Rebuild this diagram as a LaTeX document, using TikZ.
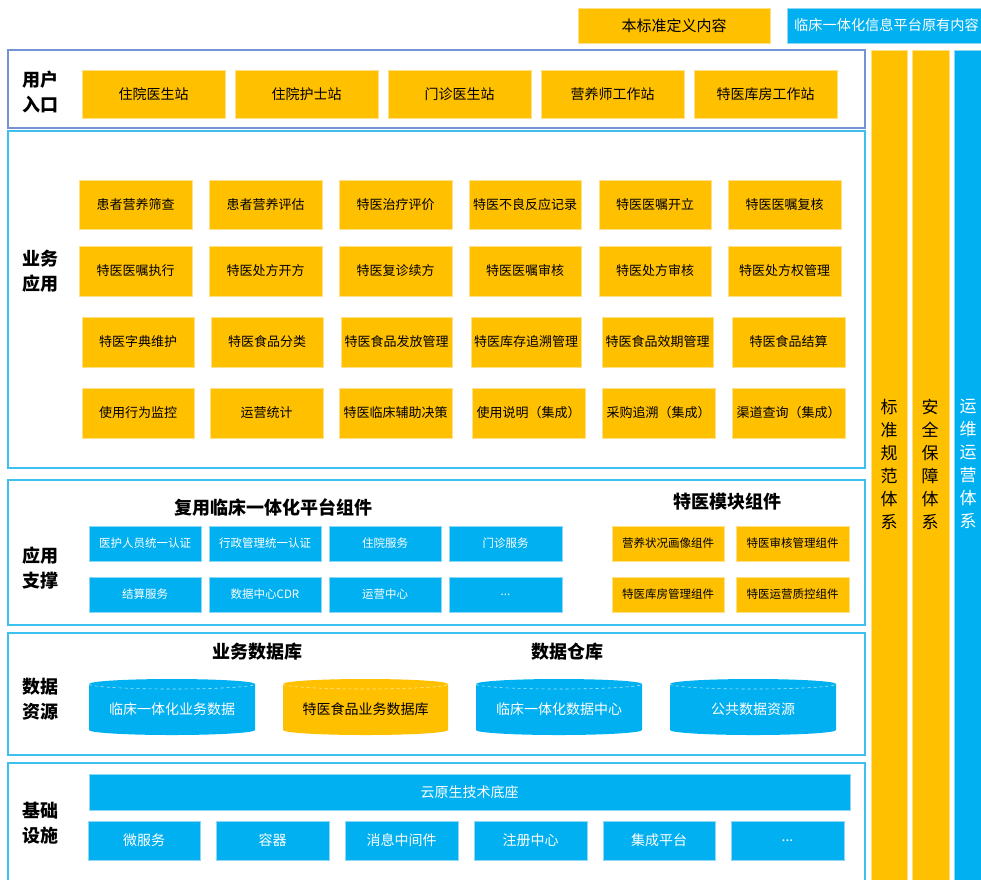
\documentclass[tikz,border=0pt]{standalone}
\usepackage{fontspec}
\setmainfont{Noto Sans CJK SC}
\definecolor{org}{HTML}{FFC000}
\definecolor{sky}{HTML}{00B0F0}
\definecolor{orgedge}{HTML}{FFE08A}
\definecolor{skyedge}{HTML}{8FD8F5}
\definecolor{userpanel}{HTML}{7393D4}
\definecolor{panelc}{HTML}{3DC0F0}
\newcommand{\bx}[7]{\node[#2, minimum width={#5-#3}, minimum height={#6-#4}] (#1) at ({(#3+#5)/2},{(#4+#6)/2}) {#7};}
\newcommand{\cyl}[8]{%
  \fill[#2] (#3,#4+5) -- (#3,#6-5) arc[start angle=180,end angle=360,x radius={(#5-#3)/2*1pt},y radius=5pt] -- (#5,#4+5) arc[start angle=0,end angle=180,x radius={(#5-#3)/2*1pt},y radius=5pt] -- cycle;
  \draw[white!70!#2, dashed, line width=0.6pt] (#3,#4+5) arc[start angle=180,end angle=360,x radius={(#5-#3)/2*1pt},y radius=5pt];
  \node[cyltext, text=#8] (#1) at ({(#3+#5)/2},{(#4+#6)/2+2}) {#7};}
\tikzset{
  obox/.style={rectangle, fill=org, draw=orgedge, line width=0.6pt, inner sep=0pt, outer sep=0pt, text=black, font=\fontsize{13}{15}\selectfont},
  bbox/.style={rectangle, fill=sky, draw=skyedge, line width=0.6pt, inner sep=0pt, outer sep=0pt, text=white, font=\fontsize{13}{15}\selectfont},
  ubox/.style={obox, font=\fontsize{14}{16}\selectfont},
  sbox/.style={bbox, font=\fontsize{11.5}{14}\selectfont},
  sobox/.style={obox, font=\fontsize{11.5}{14}\selectfont},
  ibox/.style={bbox, font=\fontsize{14}{16}\selectfont},
  cyltext/.style={font=\fontsize{14}{16}\selectfont, inner sep=0pt},
  panel/.style={draw=panelc, line width=1.3pt, fill=white},
  lab/.style={font=\fontsize{18}{25}\selectfont\bfseries, align=center, inner sep=0pt},
  ttl/.style={font=\fontsize{18}{20}\selectfont\bfseries, inner sep=0pt},
  vbar/.style={rectangle, inner sep=0pt, outer sep=0pt},
  vtext/.style={font=\fontsize{17}{23}\selectfont, align=center, inner sep=0pt},
  legend/.style={rectangle, inner sep=0pt, font=\fontsize{15}{17}\selectfont}
}
\begin{document}
\begin{tikzpicture}[x=1pt,y=-1pt]
\clip (0,0) rectangle (981,879);
\fill[white] (0,0) rectangle (981,879);

% legend
\bx{lgo}{legend, fill=org, draw=orgedge, text=black}{578}{8}{770}{43}{本标准定义内容}
\bx{lgb}{legend, fill=sky, draw=skyedge, text=white}{787}{8}{1000}{43}{}
\node[anchor=west, inner sep=0pt, text=white, font=\fontsize{14.2}{17}\selectfont] (lgbt) at (794,25.5) {临床一体化信息平台原有内容};

% vertical bars
\bx{vb1}{vbar, fill=org, draw=orgedge}{871}{50}{907}{885}{}
\bx{vb2}{vbar, fill=org, draw=orgedge}{912}{50}{949}{885}{}
\bx{vb3}{vbar, fill=sky, draw=skyedge}{954}{50}{995}{885}{}
\node[vtext, text=black] (vt1) at (889,464) {标\\准\\规\\范\\体\\系};
\node[vtext, text=black] (vt2) at (930,464) {安\\全\\保\\障\\体\\系};
\node[vtext, text=white] (vt3) at (968,464) {运\\维\\运\\营\\体\\系};

% panels
\draw[panel, draw=userpanel] (8,50) rectangle (865,128);
\draw[panel] (8,131) rectangle (865,468);
\draw[panel] (8,480) rectangle (865,625);
\draw[panel] (8,633) rectangle (865,755);
\draw[panel] (8,763) rectangle (865,890);

% panel labels
\node[lab] (l1) at (40,92) {用户\\入口};
\node[lab] (l2) at (40,271) {业务\\应用};
\node[lab] (l3) at (40,568) {应用\\支撑};
\node[lab] (l4) at (40,699) {数据\\资源};
\node[lab] (l5) at (40,823) {基础\\设施};

% user entry
\bx{u1}{ubox}{82}{70}{225}{118}{住院医生站}
\bx{u2}{ubox}{235}{70}{378}{118}{住院护士站}
\bx{u3}{ubox}{388}{70}{531}{118}{门诊医生站}
\bx{u4}{ubox}{541}{70}{684}{118}{营养师工作站}
\bx{u5}{ubox}{694}{70}{837}{118}{特医库房工作站}

% business applications
\bx{a11}{obox}{79}{180}{192}{229}{患者营养筛查}
\bx{a12}{obox}{209}{180}{322}{229}{患者营养评估}
\bx{a13}{obox}{339}{180}{452}{229}{特医治疗评价}
\bx{a14}{obox}{469}{180}{581}{229}{特医不良反应记录}
\bx{a15}{obox}{599}{180}{711}{229}{特医医嘱开立}
\bx{a16}{obox}{728}{180}{841}{229}{特医医嘱复核}

\bx{a21}{obox}{79}{246}{192}{296}{特医医嘱执行}
\bx{a22}{obox}{209}{246}{322}{296}{特医处方开方}
\bx{a23}{obox}{339}{246}{452}{296}{特医复诊续方}
\bx{a24}{obox}{469}{246}{581}{296}{特医医嘱审核}
\bx{a25}{obox}{599}{246}{711}{296}{特医处方审核}
\bx{a26}{obox}{728}{246}{841}{296}{特医处方权管理}

\bx{a31}{obox}{82}{317}{194}{367}{特医字典维护}
\bx{a32}{obox}{211}{317}{323}{367}{特医食品分类}
\bx{a33}{obox}{341}{317}{452}{367}{特医食品发放管理}
\bx{a34}{obox}{471}{317}{581}{367}{特医库存追溯管理}
\bx{a35}{obox}{602}{317}{713}{367}{特医食品效期管理}
\bx{a36}{obox}{732}{317}{845}{367}{特医食品结算}

\bx{a41}{obox}{82}{388}{194}{438}{使用行为监控}
\bx{a42}{obox}{210}{388}{323}{438}{运营统计}
\bx{a43}{obox}{339}{388}{452}{438}{特医临床辅助决策}
\bx{a44}{obox}{472}{388}{585}{438}{使用说明（集成）}
\bx{a45}{obox}{602}{388}{715}{438}{采购追溯（集成）}
\bx{a46}{obox}{732}{388}{845}{438}{渠道查询（集成）}

% application support
\node[ttl] (t1) at (273,507) {复用临床一体化平台组件};
\node[ttl] (t2) at (727,502) {特医模块组件};
\bx{s11}{sbox}{89}{526}{201}{561}{医护人员统一认证}
\bx{s12}{sbox}{209}{526}{321}{561}{行政管理统一认证}
\bx{s13}{sbox}{329}{526}{441}{561}{住院服务}
\bx{s14}{sbox}{449}{526}{562}{561}{门诊服务}
\bx{s21}{sbox}{89}{577}{201}{612}{结算服务}
\bx{s22}{sbox}{209}{577}{321}{612}{数据中心CDR}
\bx{s23}{sbox}{329}{577}{441}{612}{运营中心}
\bx{s24}{sbox}{449}{577}{562}{612}{...}
\bx{m11}{sobox}{612}{526}{724}{561}{营养状况画像组件}
\bx{m12}{sobox}{736}{526}{849}{561}{特医审核管理组件}
\bx{m21}{sobox}{612}{577}{724}{612}{特医库房管理组件}
\bx{m22}{sobox}{736}{577}{849}{612}{特医运营质控组件}

% data resources
\node[ttl] (t3) at (257,652) {业务数据库};
\node[ttl] (t4) at (567,652) {数据仓库};
\cyl{d1}{sky}{89}{679}{255}{735}{临床一体化业务数据}{white}
\cyl{d2}{org}{283}{679}{448}{735}{特医食品业务数据库}{black}
\cyl{d3}{sky}{476}{679}{642}{735}{临床一体化数据中心}{white}
\cyl{d4}{sky}{670}{679}{836}{735}{公共数据资源}{white}

% infrastructure
\bx{i0}{ibox}{89}{774}{850}{810}{云原生技术底座}
\bx{i1}{ibox}{88}{821}{200}{860}{微服务}
\bx{i2}{ibox}{216}{821}{329}{860}{容器}
\bx{i3}{ibox}{345}{821}{458}{860}{消息中间件}
\bx{i4}{ibox}{474}{821}{587}{860}{注册中心}
\bx{i5}{ibox}{603}{821}{715}{860}{集成平台}
\bx{i6}{ibox}{731}{821}{844}{860}{...}
\end{tikzpicture}
\end{document}
